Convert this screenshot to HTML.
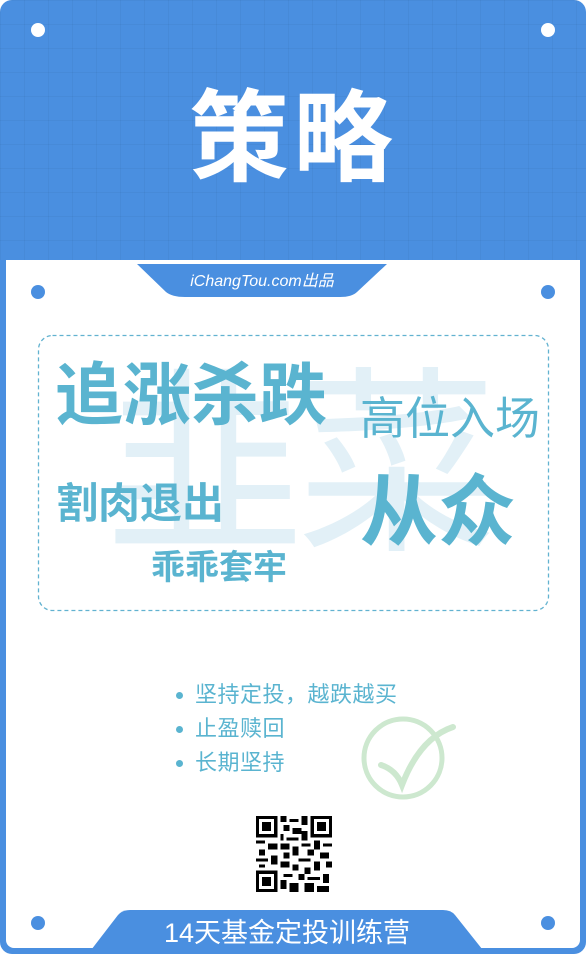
<!DOCTYPE html>
<html><head><meta charset="utf-8"><style>
body{margin:0;width:586px;height:954px;overflow:hidden;background:#fff}
*{box-sizing:border-box}
.f{font-family:"Liberation Sans","Noto Sans CJK SC",sans-serif}
.abs{position:absolute}
.tip{position:relative;padding-left:22px;white-space:nowrap}
.tip:before{content:"";position:absolute;left:3px;top:14px;width:7px;height:7px;border-radius:50%;background:#5ab4d0}
</style></head><body>
<div class="abs" style="left:0;top:0;width:586px;height:954px;background:#4a8fe0;border-radius:12px;overflow:hidden">
 <div class="abs" style="left:0;top:0;width:586px;height:260px;background-image:linear-gradient(rgba(0,0,0,0.035) 1px,transparent 1px),linear-gradient(90deg,rgba(0,0,0,0.035) 1px,transparent 1px);background-size:24px 24px"></div>
 <div class="abs f" style="left:0;top:74px;width:586px;text-align:center;color:#fff;font-size:100px;font-weight:bold;line-height:130px;letter-spacing:4px">策略</div>
 <div class="abs" style="left:6px;top:260px;width:574px;height:688px;background:#fff;border-radius:0 0 8px 8px"></div>
 <svg class="abs" style="left:0;top:0" width="586" height="954">
  <path d="M137 264 L387 264 L357 292 Q352 297 340 297 L185 297 Q172 297 166 292 Z" fill="#4a8fe0"/>
  <path d="M88 954 L118 915 Q122 910 130 910 L443 910 Q451 910 455 915 L486 954 Z" fill="#4a8fe0"/>
  <circle cx="38" cy="30" r="7" fill="#fff"/><circle cx="548" cy="30" r="7" fill="#fff"/>
  <circle cx="38" cy="292" r="7" fill="#4a8fe0"/><circle cx="548" cy="292" r="7" fill="#4a8fe0"/>
  <circle cx="38" cy="923" r="7" fill="#4a8fe0"/><circle cx="548" cy="923" r="7" fill="#4a8fe0"/>
  <rect x="38.5" y="335.5" width="510" height="275" rx="14" fill="none" stroke="#62b2d0" stroke-width="1.3" stroke-dasharray="4 3"/>
  <circle cx="403" cy="758" r="39" fill="none" stroke="#cde8cf" stroke-width="5"/>
  <path d="M381 765 Q396 770 402 785 Q420 738 453 727" fill="none" stroke="#cde8cf" stroke-width="6" stroke-linecap="round"/>
 </svg>
 <div class="abs f" style="left:137px;top:270px;width:250px;text-align:center;color:#fff;font-size:16px;font-style:italic;line-height:24px">iChangTou.com出品</div>
 <div class="abs f" style="left:105px;top:352px;color:#e2f0f7;font-size:200px;line-height:230px;letter-spacing:-8px">韭菜</div>
 <div class="abs f" style="left:55px;top:358px;color:#5ab4d0;font-size:68px;font-weight:bold;line-height:76px">追涨杀跌</div>
 <div class="abs f" style="left:360px;top:392px;color:#5ab4d0;font-size:45px;line-height:54px">高位入场</div>
 <div class="abs f" style="left:56px;top:478px;color:#5ab4d0;font-size:42px;font-weight:bold;line-height:52px">割肉退出</div>
 <div class="abs f" style="left:360px;top:466px;color:#5ab4d0;font-size:78px;font-weight:bold;line-height:92px">从众</div>
 <div class="abs f" style="left:151px;top:546px;color:#5ab4d0;font-size:34px;font-weight:bold;line-height:44px">乖乖套牢</div>
 <div class="abs f" style="left:173px;top:678px;color:#5ab4d0;font-size:22px;line-height:34px;letter-spacing:0.5px">
  <div class="tip">坚持定投，越跌越买</div>
  <div class="tip">止盈赎回</div>
  <div class="tip">长期坚持</div>
 </div>
 <svg class="abs" style="left:256px;top:816px" width="76" height="76" viewBox="0 0 25 25" shape-rendering="crispEdges">
  <g fill="#000">
  <rect x="0" y="0" width="7" height="7"/><rect x="1" y="1" width="5" height="5" fill="#fff"/><rect x="2" y="2" width="3" height="3"/>
  <rect x="18" y="0" width="7" height="7"/><rect x="19" y="1" width="5" height="5" fill="#fff"/><rect x="20" y="2" width="3" height="3"/>
  <rect x="0" y="18" width="7" height="7"/><rect x="1" y="19" width="5" height="5" fill="#fff"/><rect x="2" y="20" width="3" height="3"/>
  <path d="M8 0h2v2h-2zM11 1h3v1h-3zM15 0h2v3h-2zM9 3h2v2h-2zM12 4h3v2h-3zM8 6h1v2h-1zM10 7h4v1h-4zM15 5h2v3h-2zM0 8h3v1h-3zM4 9h3v2h-3zM1 11h2v2h-2zM0 14h4v1h-4zM5 13h2v3h-2zM8 9h3v2h-3zM12 10h2v3h-2zM9 12h2v2h-2zM15 9h3v1h-3zM19 8h2v3h-2zM22 9h3v1h-3zM17 11h2v2h-2zM21 12h3v2h-3zM14 14h4v1h-4zM8 15h3v2h-3zM12 16h2v2h-2zM19 15h2v3h-2zM23 15h2v2h-2zM16 17h2v2h-2zM9 19h3v1h-3zM8 21h2v3h-2zM11 22h3v3h-3zM14 19h2v2h-2zM17 20h4v1h-4zM22 19h2v3h-2zM16 22h3v3h-3zM20 23h4v2h-4zM1 16h2v1h-2z"/>
  </g>
 </svg>
 <div class="abs f" style="left:88px;top:914px;width:398px;text-align:center;color:#fff;font-size:27px;line-height:38px">14天基金定投训练营</div>
</div>
</body></html>
